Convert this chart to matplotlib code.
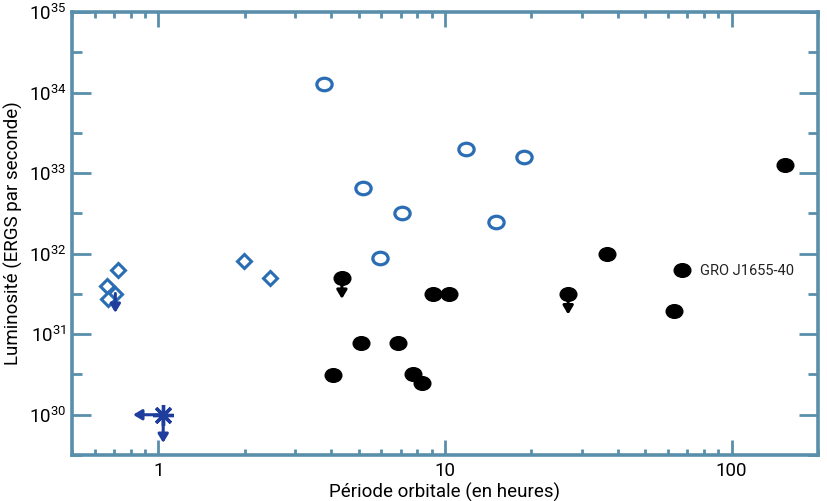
import numpy as np
import matplotlib
matplotlib.use("Agg")
import matplotlib.pyplot as plt
from matplotlib import font_manager
from matplotlib.path import Path
from matplotlib.transforms import Affine2D
from matplotlib.ticker import FixedLocator, FuncFormatter, NullFormatter

# --- data (period in hours, luminosity in erg/s) ---
open_P = [3.79, 11.8, 18.8, 5.18, 7.08, 15.1, 5.93]
open_L = [1.29e34, 2.0e33, 1.58e33, 6.5e32, 3.2e32, 2.5e32, 8.9e31]

bh_P = [4.37, 9.10, 10.3, 26.9, 5.08, 6.86, 4.08, 7.74, 8.29, 154.0, 36.8, 67.1, 62.8]
bh_L = [5.0e31, 3.2e31, 3.2e31, 3.2e31, 7.8e30, 7.8e30, 3.1e30, 3.2e30, 2.45e30,
        1.26e33, 1.0e32, 6.3e31, 1.95e31]
bh_upper = [True, False, False, True, False, False, False, False, False,
            False, False, False, False]

dia_P = [0.726, 0.660, 0.708, 0.670, 1.99, 2.45]
dia_L = [6.3e31, 4.0e31, 3.2e31, 2.75e31, 8.0e31, 5.0e31]
dia_upper = [False, False, True, False, False, False]

star_P = [1.04]
star_L = [1.0e30]

label_text = "GRO J1655-40"
label_P, label_L = 67.1, 6.3e31

# --- fonts ---
names = {f.name for f in font_manager.fontManager.ttflist}
fam = "Liberation Sans Narrow" if "Liberation Sans Narrow" in names else "Roboto"
plt.rcParams['font.family'] = [fam, 'DejaVu Sans']
plt.rcParams['mathtext.fontset'] = 'custom'
plt.rcParams['mathtext.rm'] = fam
plt.rcParams['mathtext.it'] = fam
plt.rcParams['mathtext.bf'] = fam

axcol = '#5a8fab'
blue = '#2a6db5'
navy = '#1f3d9c'

# slightly flattened circle marker
ell = Affine2D().scale(1.22, 1.0).transform_path(Path.unit_circle())

fig = plt.figure(figsize=(8.27, 5.01), dpi=100)
ax = fig.add_axes([0.0871, 0.0918, 0.9019, 0.8842])

ax.set_xscale('log')
ax.set_yscale('log')
ax.set_xlim(0.5, 200)
ax.set_ylim(10**29.5, 1e35)

# open circles
ax.plot(open_P, open_L, linestyle='none', marker=ell, markersize=11,
        markerfacecolor='white', markeredgecolor=blue, markeredgewidth=2.3, zorder=3)

# filled black circles
ax.plot(bh_P, bh_L, linestyle='none', marker=ell, markersize=12,
        markerfacecolor='black', markeredgecolor='black', zorder=3)

# diamonds
ax.plot(dia_P, dia_L, linestyle='none', marker='D', markersize=7.3,
        markerfacecolor='white', markeredgecolor=blue, markeredgewidth=2.2, zorder=3)

# star
ax.plot(star_P, star_L, linestyle='none', marker=(8, 2, 0), markersize=15,
        markeredgecolor=navy, markeredgewidth=2.4, zorder=3)

def arrow(x0, y0, x1, y1, col):
    ax.annotate('', xy=(x1, y1), xytext=(x0, y0),
                arrowprops=dict(arrowstyle='-|>,head_length=0.5,head_width=0.3',
                                color=col, lw=2.2, shrinkA=0, shrinkB=0), zorder=4)

for p, l, u in zip(bh_P, bh_L, bh_upper):
    if u:
        arrow(p, l, p, l * 10**-0.26, 'black')
for p, l, u in zip(dia_P, dia_L, dia_upper):
    if u:
        arrow(p, l, p, l * 10**-0.24, navy)
for p, l in zip(star_P, star_L):
    arrow(p, l, p, l * 10**-0.35, navy)
    arrow(p, l, p * 10**-0.105, l, navy)

ax.annotate(label_text, xy=(label_P, label_L), xytext=(13, -1),
            textcoords='offset points', ha='left', va='center',
            fontsize=10.5, color='#222222')

# axes styling
for s in ax.spines.values():
    s.set_color(axcol)
    s.set_linewidth(2.6)

ax.yaxis.set_major_locator(FixedLocator([10.0**k for k in range(30, 36)]))
ax.yaxis.set_minor_locator(FixedLocator([10.0**(k + 0.5) for k in range(29, 35)]))
ax.yaxis.set_major_formatter(FuncFormatter(lambda v, pos: r'$10^{%d}$' % round(np.log10(v))))
ax.yaxis.set_minor_formatter(NullFormatter())

ax.xaxis.set_major_locator(FixedLocator([1, 10, 100]))
ax.xaxis.set_minor_locator(FixedLocator([m * 10.0**k for k in (-1, 0, 1, 2) for m in range(2, 10)]))
ax.xaxis.set_major_formatter(FuncFormatter(lambda v, pos: '%g' % v))
ax.xaxis.set_minor_formatter(NullFormatter())

ax.tick_params(axis='both', which='both', direction='in', color=axcol, width=2.0,
               top=True, right=True, labelsize=13.5)
ax.tick_params(axis='y', which='major', length=14, pad=4)
ax.tick_params(axis='y', which='minor', length=7)
ax.tick_params(axis='x', which='major', length=11, pad=5)
ax.tick_params(axis='x', which='minor', length=4)

ax.set_xlabel('Période orbitale (en heures)', fontsize=13.5, labelpad=2)
ax.set_ylabel('Luminosité (ERGS par seconde)', fontsize=13.5, labelpad=4)

fig.savefig('out.png', dpi=100, facecolor='white')
